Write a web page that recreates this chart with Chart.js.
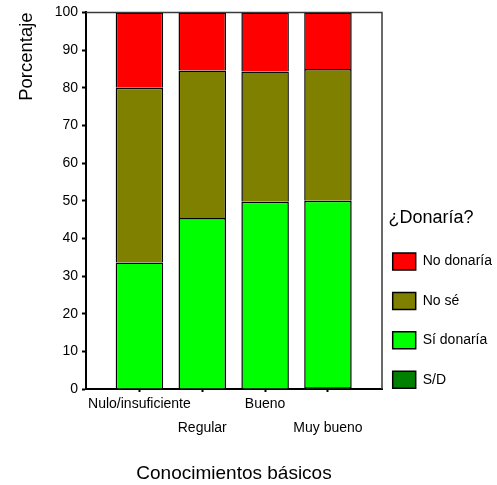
<!DOCTYPE html>
<html>
<head>
<meta charset="utf-8">
<script src="https://cdn.jsdelivr.net/npm/chart.js@4"></script>
<style>
  html, body { margin: 0; padding: 0; background: #ffffff; }
  #wrap { width: 497px; height: 485px; }
</style>
</head>
<body>
<div id="wrap"><canvas id="chart" width="497" height="485"></canvas></div>
<script>
// Knowledge level groups on the x axis
const categories = ['Nulo/insuficiente', 'Regular', 'Bueno', 'Muy bueno'];

// Answer groups, stacked from the bottom up
const seriesNames = ['S/D', 'Sí donaría', 'No sé', 'No donaría'];

// Percentages per knowledge level
const sinDato   = [0.0, 0.0, 0.0, 0.5];
const siDonaria = [33.6, 45.4, 49.7, 49.5];
const noSe      = [46.4, 39.2, 34.6, 35.0];
const noDonaria = [20.0, 15.4, 15.7, 15.0];

// Y axis tick values
const yTicks = [0, 10, 20, 30, 40, 50, 60, 70, 80, 90, 100];

const seriesValues = [sinDato, siDonaria, noSe, noDonaria];
const seriesColors = ['#008000', '#00ff00', '#808000', '#ff0000'];

Chart.defaults.font.family = 'Arial, "Liberation Sans", sans-serif';
Chart.defaults.color = '#000000';

// Closes the plot box on the top and right, and tucks the legend in next to it
const plotFrame = {
  id: 'plotFrame',
  afterLayout(chart) {
    const lg = chart.legend;
    if (lg) {
      lg.left -= 11.7;
      lg.width = 121.4;
      lg.right = chart.width;
    }
  },
  afterDraw(chart) {
    const { left, top, right, bottom } = chart.chartArea;
    const ctx = chart.ctx;
    ctx.save();
    ctx.strokeStyle = '#3a3a3a';
    ctx.lineWidth = 1.5;
    ctx.beginPath();
    ctx.moveTo(left, top);
    ctx.lineTo(right, top);
    ctx.lineTo(right, bottom);
    ctx.stroke();
    ctx.restore();
  }
};

new Chart(document.getElementById('chart'), {
  type: 'bar',
  data: {
    datasets: seriesNames.map((name, k) => ({
      label: name,
      data: seriesValues[k].map((v, i) => ({ x: i, y: v })),
      backgroundColor: seriesColors[k],
      borderColor: '#000000',
      borderWidth: 1.5,
      barPercentage: 0.756,
      categoryPercentage: 1
    }))
  },
  options: {
    responsive: false,
    devicePixelRatio: 1,
    animation: false,
    events: [],
    layout: { padding: { top: 12, right: 0, bottom: 0, left: 0 } },
    scales: {
      x: {
        type: 'linear',
        stacked: true,
        min: -0.85,
        max: 3.86,
        offset: false,
        afterBuildTicks: s => { s.ticks = categories.map((_, i) => ({ value: i })); },
        afterFit: s => { s.height = 96; },
        ticks: {
          autoSkip: false,
          maxRotation: 0,
          minRotation: 0,
          padding: 0,
          color: '#000000',
          font: { size: 14, lineHeight: 24 / 14 },
          callback: value => {
            const i = Math.round(value);
            const name = categories[i];
            return i % 2 === 0 ? [name, ''] : ['', name];
          }
        },
        grid: {
          drawOnChartArea: false,
          offset: false,
          tickLength: 3,
          tickWidth: 2,
          tickColor: '#000000'
        },
        border: { display: true, color: '#000000', width: 2 },
        title: {
          display: true,
          text: 'Conocimientos básicos',
          color: '#000000',
          font: { size: 19 },
          padding: { top: 0, bottom: 0 }
        }
      },
      y: {
        stacked: true,
        min: 0,
        max: 100,
        afterBuildTicks: s => { s.ticks = yTicks.map(v => ({ value: v })); },
        afterFit: s => { s.width = 86; },
        ticks: { padding: 4, color: '#000000', font: { size: 14 } },
        grid: {
          drawOnChartArea: false,
          tickLength: 4,
          tickWidth: 2,
          tickColor: '#000000'
        },
        border: { display: true, color: '#000000', width: 2 },
        title: {
          display: true,
          text: 'Porcentaje',
          align: 'end',
          color: '#000000',
          font: { size: 18.5 },
          padding: { top: 16, bottom: 0 }
        }
      }
    },
    plugins: {
      tooltip: { enabled: false },
      legend: {
        position: 'right',
        align: 'start',
        reverse: true,
        maxWidth: 115,
        labels: {
          boxWidth: 23,
          boxHeight: 17,
          padding: 22.4,
          color: '#000000',
          font: { size: 14 }
        },
        title: {
          display: true,
          text: '¿Donaría?',
          position: 'center',
          color: '#000000',
          font: { size: 18 },
          padding: { top: 197, bottom: 0 }
        }
      }
    }
  },
  plugins: [plotFrame]
});
</script>
</body>
</html>
